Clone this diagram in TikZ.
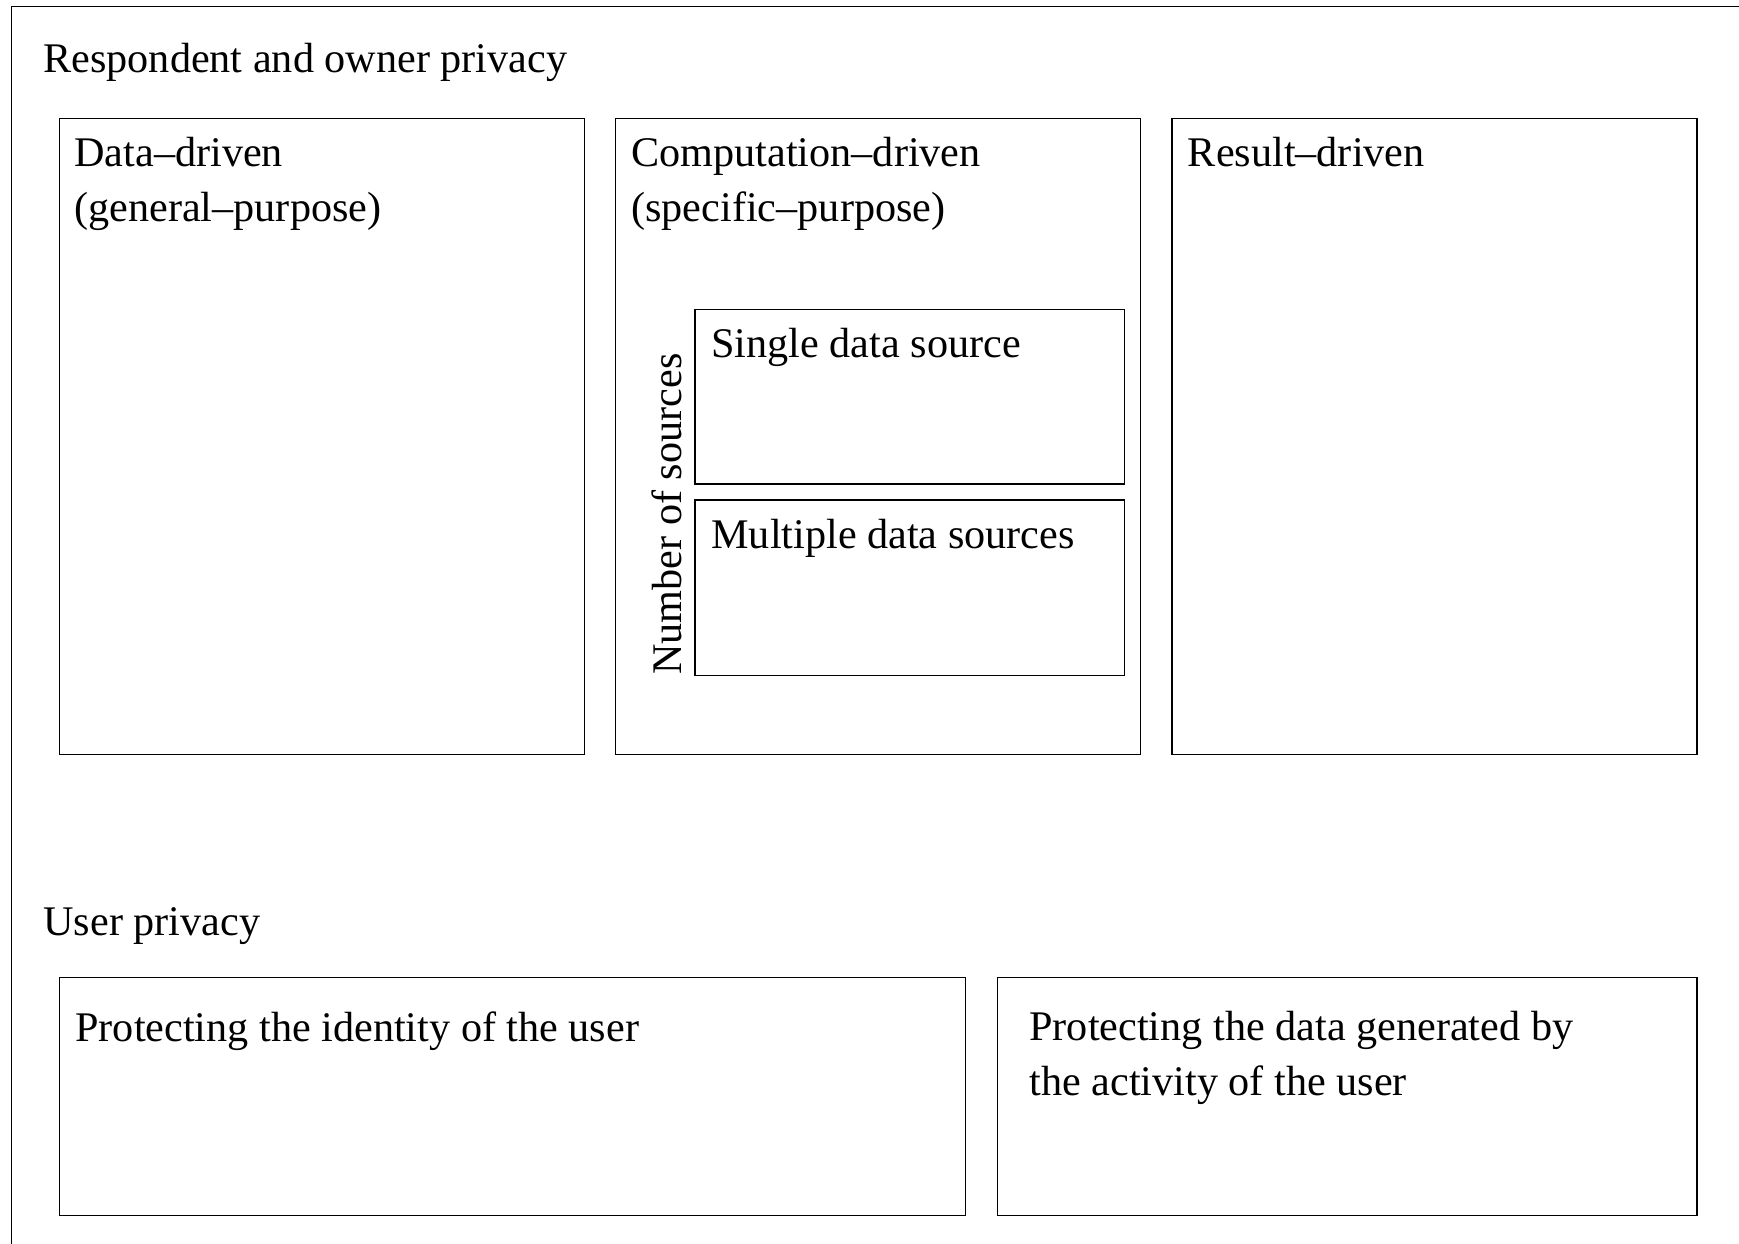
\documentclass[tikz,border=0pt]{standalone}
\usepackage{fontspec}
\setmainfont{Liberation Serif}
\usetikzlibrary{fit}
\begin{document}
\begin{tikzpicture}[x=0.5pt,y=-0.5pt,
  box/.style={draw, line width=0.6pt, inner sep=0pt},
  lbl/.style={anchor=base west, inner sep=0pt, align=left,
    font=\fontsize{21.1pt}{27.5pt}\selectfont}]
\useasboundingbox (0,0) rectangle (1739,1243);
% outer frame (only top and left edges visible)
\coordinate (fa) at (11.7,1260);
\coordinate (fb) at (11.7,6.7);
\coordinate (fc) at (1760,6.7);
\draw[line width=0.6pt] (fa) -- (fb) -- (fc);
\node[lbl] (t0) at (43,72) {Respondent and owner privacy};
% three top boxes
\node[box, fit={(59.3,118.5) (584.3,754.5)}] (b1) {};
\node[box, fit={(615.7,118.5) (1140.3,754.5)}] (b2) {};
\node[box, fit={(1172,118.5) (1697,754.5)}] (b3) {};
\node[lbl] (t1) at (74,221) {Data–driven\\(general–purpose)};
\node[lbl] (t2) at (631,221) {Computation–driven\\(specific–purpose)};
\node[lbl] (t3) at (1187.5,166) {Result–driven};
% inner boxes
\node[box, fit={(695,309.3) (1124.5,484)}] (s1) {};
\node[box, fit={(695,500) (1124.5,675.4)}] (s2) {};
\node[lbl] (ts1) at (711,357) {Single data source};
\node[lbl] (ts2) at (711,548) {Multiple data sources};
\node[lbl, rotate=90] (tn) at (681,675) {Number of sources};
% user privacy
\node[lbl] (t4) at (43,935) {User privacy};
\node[box, fit={(59.3,977.7) (965.7,1215.7)}] (b4) {};
\node[box, fit={(997.3,977.7) (1697,1215.7)}] (b5) {};
\node[lbl] (t5) at (75,1041) {Protecting the identity of the user};
\node[lbl] (t6) at (1029,1095) {Protecting the data generated by\\the activity of the user};
\end{tikzpicture}
\end{document}
